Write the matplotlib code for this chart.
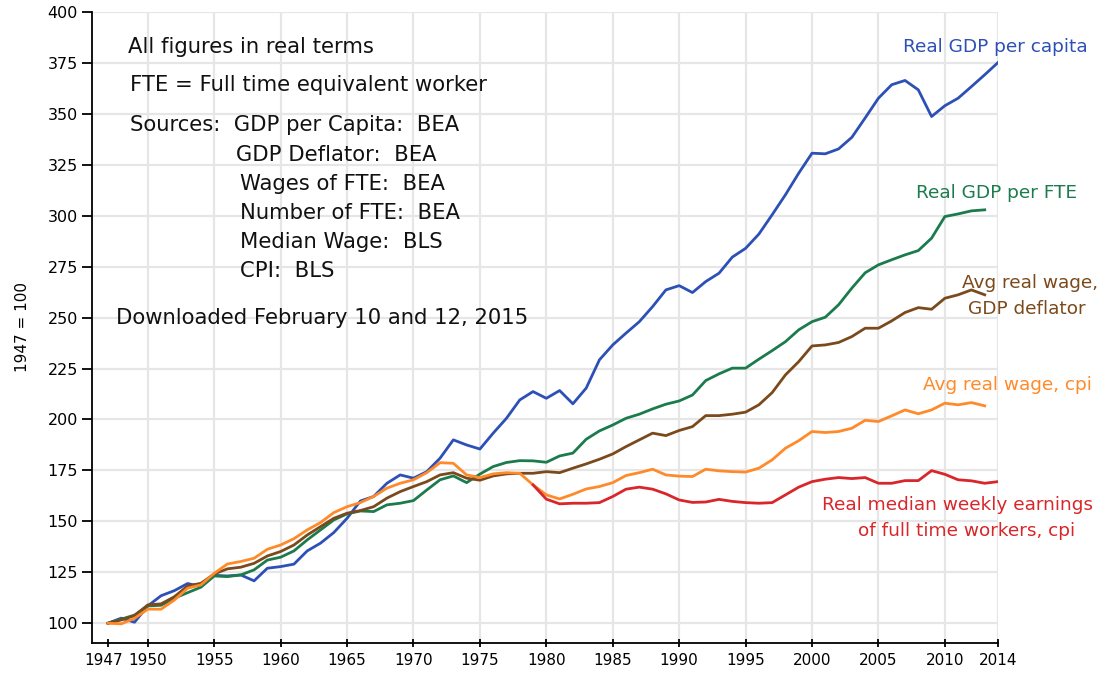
import numpy as np
import matplotlib.pyplot as plt
from matplotlib.transforms import ScaledTranslation

# values, 1947 = 100
years = list(range(1947, 2015))
gdp_per_capita = [
    100, 102.5, 100.5, 108.5, 113.5, 116, 119.5, 118, 123.5, 123.2,
    123.7, 120.8, 127, 127.8, 129, 135.5, 139.3, 144.5, 151.5, 160,
    162.2, 168.7, 172.8, 171.2, 174.4, 181, 190, 187.5, 185.5, 193.3,
    200.6, 209.6, 213.7, 210.4, 214.2, 207.7, 215.4, 229.3, 236.6, 242.4,
    248, 255.4, 263.6, 265.7, 262.3, 267.7, 271.8, 279.7, 284, 291,
    300.5, 310.3, 320.9, 330.7, 330.4, 332.8, 338.5, 348, 357.7, 364.3,
    366.4, 361.8, 348.7, 354, 357.7, 363.4, 369.2, 375.2,
]
gdp_per_fte = [
    100, 102, 104, 108.5, 108.8, 112.3, 115, 117.7, 123.2, 122.9,
    123.7, 126.2, 131, 132.4, 135.5, 140.9, 145.8, 150.7, 153.7, 155.1,
    154.8, 158.1, 158.9, 160.2, 165.4, 170.4, 172.3, 169, 173.2, 176.9,
    178.9, 179.8, 179.7, 179, 182.1, 183.5, 190.3, 194.4, 197.3, 200.6,
    202.6, 205.2, 207.5, 209.1, 212, 219.1, 222.4, 225.2, 225.2, 229.6,
    233.8, 238.2, 244, 248, 250.2, 256.3, 264.5, 272, 275.9, 278.4,
    280.8, 282.9, 289, 299.6, 300.9, 302.4, 302.9,
]
wage_gdp_deflator = [
    100, 101.6, 103.7, 109, 109.5, 113, 118.3, 119.6, 124.2, 126.7,
    127.5, 129.4, 133, 135.2, 138.4, 143.3, 147.4, 151.5, 154, 155.3,
    157.2, 161.4, 164.6, 167.1, 169.5, 172.8, 173.9, 171.2, 170.2, 172.3,
    173.3, 173.6, 173.6, 174.4, 173.9, 176.1, 178.2, 180.5, 183.1, 186.7,
    190, 193.3, 192.1, 194.6, 196.5, 201.9, 201.9, 202.6, 203.6, 207.2,
    213.2, 221.9, 228.4, 236.1, 236.6, 237.8, 240.7, 244.8, 244.8, 248.4,
    252.5, 254.9, 254.1, 259.5, 261.2, 263.6, 261.2,
]
wage_cpi = [
    100, 99.7, 102.4, 106.9, 106.9, 111.4, 117.2, 118.8, 124.5, 129.1,
    130.3, 131.9, 136.3, 138.4, 141.5, 145.8, 149.4, 154.3, 157.2, 159.2,
    162.2, 166.3, 168.7, 170.4, 173.9, 178.8, 178.5, 172.8, 171.5, 173.3,
    173.9, 173.6, 167.9, 163, 161, 163.3, 165.9, 167.1, 169, 172.5,
    173.9, 175.6, 172.8, 172.2, 172, 175.6, 174.8, 174.4, 174.2, 176.1,
    180.2, 185.9, 189.6, 194.1, 193.6, 194.1, 195.7, 199.6, 199, 201.8,
    204.7, 202.8, 204.7, 208, 207.2, 208.3, 206.7,
]
median_years = list(range(1979, 2015))
median_weekly = [
    167.9, 160.9, 158.6, 158.9, 158.9, 159.2, 162.2, 165.8, 166.8, 165.8,
    163.5, 160.5, 159.3, 159.5, 160.8, 159.8, 159.2, 158.9, 159.2, 163,
    166.8, 169.5, 170.7, 171.5, 171, 171.5, 168.7, 168.7, 170, 170,
    174.9, 173.1, 170.4, 169.9, 168.7, 169.5,
]

blue = '#2c50b6'
green = '#1c7b4c'
brown = '#7a4a1c'
orange = '#ff8a2a'
red = '#d8262a'

W, H = 1107, 677
fig = plt.figure(figsize=(W / 100, H / 100), dpi=100)
ax = fig.add_axes([92 / W, 1 - 643 / H, (998 - 92) / W, (643 - 12) / H])

lw = 2.0
ax.plot(years, gdp_per_capita, color=blue, lw=lw)
ax.plot(years[:-1], gdp_per_fte, color=green, lw=lw)
ax.plot(years[:-1], wage_gdp_deflator, color=brown, lw=lw)
ax.plot(years[:-1], wage_cpi, color=orange, lw=lw)
ax.plot(median_years, median_weekly, color=red, lw=lw)

ax.set_xlim(1945.8, 2014)
ax.set_ylim(90.3, 400)
ax.set_xticks(list(range(1950, 2011, 5)) + [2014])
ax.set_xticks([1947], minor=True)
ax.set_xticklabels(['1947'], minor=True)
ax.set_yticks(range(100, 401, 25))
ax.grid(True, which='major', color='#e6e6e6', lw=1.6)
ax.set_axisbelow(True)
for s in ['top', 'right']:
    ax.spines[s].set_visible(False)
for s in ['left', 'bottom']:
    ax.spines[s].set_linewidth(1.3)
ax.tick_params(axis='y', direction='out', length=7, width=1.3, labelsize=11.5, pad=3)
ax.tick_params(axis='x', which='both', direction='inout', length=6, width=1.3, labelsize=11, pad=4)
# nudge the 1947 label left so it does not run into 1950
for t in ax.get_xticklabels(minor=True):
    t.set_transform(t.get_transform() + ScaledTranslation(-4 / 100, 0, fig.dpi_scale_trans))
ax.set_ylabel('1947 = 100', fontsize=11)
ax.yaxis.set_label_coords(-0.068, 0.5)


def ftext(x, y, s, **kw):
    fig.text(x / W, 1 - y / H, s, va='center', **kw)


note = dict(fontsize=15.2, color='#111111')
ftext(128, 47, 'All figures in real terms', **note)
ftext(130, 85, 'FTE = Full time equivalent worker', **note)
ftext(130, 125, 'Sources:  GDP per Capita:  BEA', **note)
ftext(236, 155, 'GDP Deflator:  BEA', **note)
ftext(240, 184, 'Wages of FTE:  BEA', **note)
ftext(240, 213, 'Number of FTE:  BEA', **note)
ftext(240, 242, 'Median Wage:  BLS', **note)
ftext(240, 271, 'CPI:  BLS', **note)
ftext(116, 318, 'Downloaded February 10 and 12, 2015', **note)

lab = 13.3
ftext(1088, 47, 'Real GDP per capita', color=blue, fontsize=lab, ha='right')
ftext(1077, 193, 'Real GDP per FTE', color=green, fontsize=lab, ha='right')
ftext(1030, 283, 'Avg real wage,', color=brown, fontsize=lab, ha='center')
ftext(1027, 309, 'GDP deflator', color=brown, fontsize=lab, ha='center')
ftext(1092, 385, 'Avg real wage, cpi', color=orange, fontsize=lab, ha='right')
ftext(1093, 505, 'Real median weekly earnings', color=red, fontsize=lab, ha='right')
ftext(1075, 531, 'of full time workers, cpi', color=red, fontsize=lab, ha='right')

fig.savefig('out.png', dpi=100)
